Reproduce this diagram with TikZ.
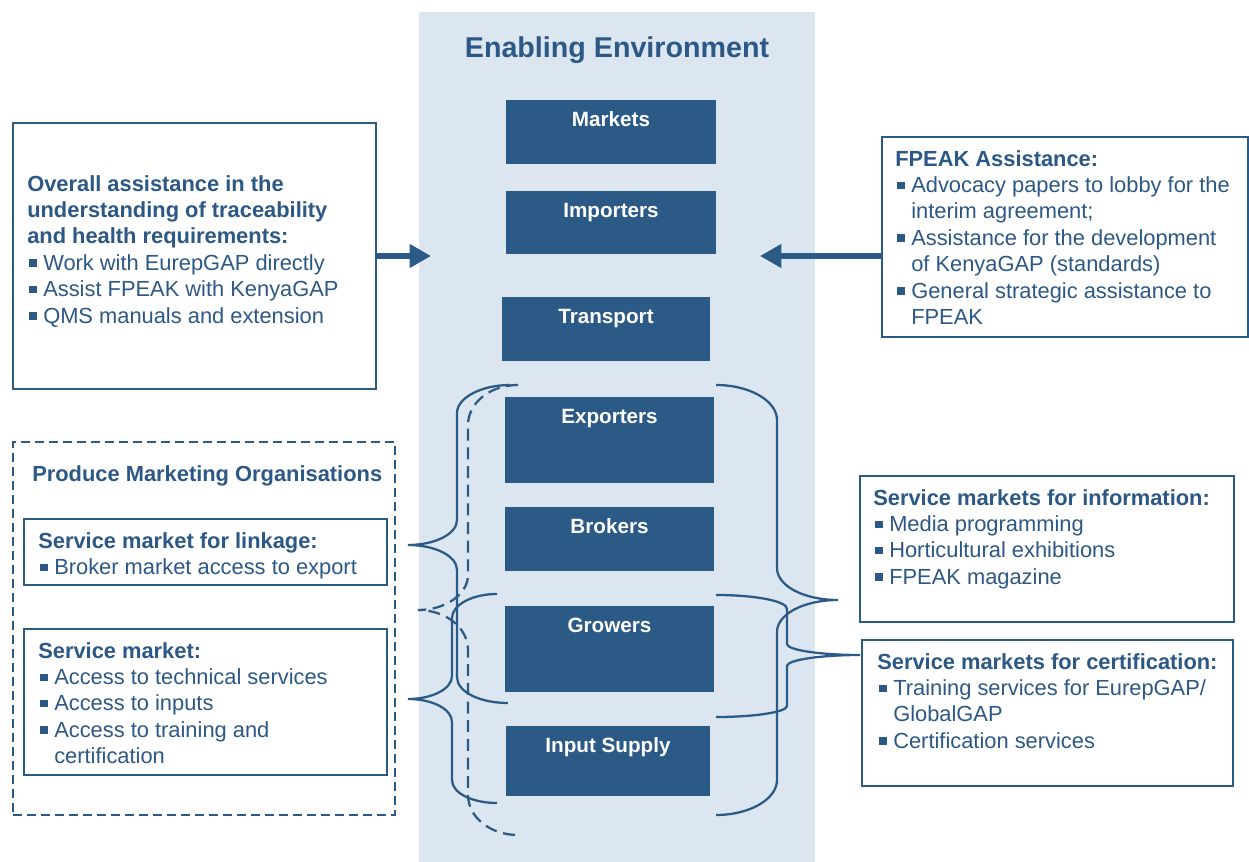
\documentclass[tikz,border=0pt]{standalone}
\usepackage{fontspec}
\setmainfont{Liberation Sans}
\usetikzlibrary{arrows.meta,fit}
\definecolor{bgblue}{RGB}{220,230,241}
\definecolor{dkblue}{RGB}{44,90,135}
\definecolor{txblue}{RGB}{44,88,133}
\newcommand{\bul}{\rule[0.16em]{0.34em}{0.34em}}
\newcommand{\bi}{\makebox[12pt][l]{\hspace{1.5pt}\bul}}
\newcommand{\ci}{\hspace*{12pt}}
\begin{document}
\begin{tikzpicture}[x=0.75pt,y=-0.75pt,
  dkbox/.style={fill=dkblue,draw=none,inner sep=0pt},
  wbox/.style={draw=dkblue,line width=1.1pt,fill=white,inner sep=0pt},
  dbox/.style={draw=dkblue,line width=1.1pt,dash pattern=on 7pt off 3.5pt,inner sep=0pt},
  lbl/.style={text=white,font=\fontsize{15.5}{18}\selectfont\bfseries,anchor=base},
  txt/.style={text=txblue,inner sep=0pt,anchor=north west,align=left,font=\fontsize{16.4}{19.8}\selectfont},
  brace/.style={draw=dkblue,line width=1.7pt},
  dbrace/.style={draw=dkblue,line width=1.7pt,dash pattern=on 9pt off 5pt},
  bigarrow/.style={draw=dkblue,line width=4.5pt,-{Triangle[length=16pt,width=17pt]}}]
\useasboundingbox (0,0) rectangle (1249,862);
% enabling environment background
\node[fill=bgblue,inner sep=0pt,fit={(419,12)(815,862)}] (env) {};
\node[text=txblue,font=\fontsize{21.5}{24}\selectfont\bfseries] (envtitle) at (617,50) {Enabling Environment};
% chain boxes
\node[dkbox,fit={(506,100)(716,164)}] (markets) {};
\node[lbl] (marketsl) at ([yshift=-20.4pt]markets.north) {Markets};
\node[dkbox,fit={(506,191)(716,254)}] (importers) {};
\node[lbl] (importersl) at ([yshift=-20.4pt]importers.north) {Importers};
\node[dkbox,fit={(502,297)(710,361)}] (transport) {};
\node[lbl] (transportl) at ([yshift=-20.4pt]transport.north) {Transport};
\node[dkbox,fit={(505,397)(714,483)}] (exporters) {};
\node[lbl] (exportersl) at ([yshift=-20.4pt]exporters.north) {Exporters};
\node[dkbox,fit={(505,507)(714,571)}] (brokers) {};
\node[lbl] (brokersl) at ([yshift=-20.4pt]brokers.north) {Brokers};
\node[dkbox,fit={(505,606)(714,692)}] (growers) {};
\node[lbl] (growersl) at ([yshift=-20.4pt]growers.north) {Growers};
\node[dkbox,fit={(506,726)(710,796)}] (input) {};
\node[lbl] (inputl) at ([yshift=-20.4pt]input.north) {Input Supply};
% left top box
\node[wbox,fit={(13,123)(376,389)}] (lb1) {};
\node[txt] (lb1t) at (27,175) {\textbf{Overall assistance in the}\\
\textbf{understanding of traceability}\\
\textbf{and health requirements:}\\
\bi Work with EurepGAP directly\\
\bi Assist FPEAK with KenyaGAP\\
\bi QMS manuals and extension};
% right top box
\node[wbox,fit={(882,137)(1248,337)}] (rb1) {};
\node[txt] (rb1t) at (895,150) {\textbf{FPEAK Assistance:}\\
\bi Advocacy papers to lobby for the\\
\ci interim agreement;\\
\bi Assistance for the development\\
\ci of KenyaGAP (standards)\\
\bi General strategic assistance to\\
\ci FPEAK};
% arrows
\coordinate (tipL) at (431,256);
\coordinate (tipR) at (760,256);
\draw[bigarrow] (lb1.east) -- (tipL);
\draw[bigarrow] (rb1.west |- lb1.east) -- (tipR);
% produce marketing organisations
\node[dbox,fit={(13,442)(395,815)}] (pmo) {};
\node[txt] (pmot) at (32,465) {\textbf{Produce Marketing Organisations}};
\node[wbox,fit={(24,519)(387,585)}] (link) {};
\node[txt] (linkt) at (38,532) {\textbf{Service market for linkage:}\\
\bi Broker market access to export};
\node[wbox,fit={(24,629)(387,775)}] (serv) {};
\node[txt] (servt) at (38,642) {\textbf{Service market:}\\
\bi Access to technical services\\
\bi Access to inputs\\
\bi Access to training and\\
\ci certification};
% right lower boxes
\node[wbox,fit={(860,476)(1234,622)}] (info) {};
\node[txt] (infot) at (873,489) {\textbf{Service markets for information:}\\
\bi Media programming\\
\bi Horticultural exhibitions\\
\bi FPEAK magazine};
\node[wbox,fit={(862,640)(1233,786)}] (cert) {};
\node[txt] (certt) at (877,653) {\textbf{Service markets for certification:}\\
\bi Training services for EurepGAP/\\
\ci GlobalGAP\\
\bi Certification services};
% braces left
\draw[brace] (510,385) .. controls (481,385) and (457,398) .. (457,413) -- (457,520)
  .. controls (457,534) and (435,545) .. (408,545) .. controls (435,545) and (457,556) .. (457,570)
  -- (457,677) .. controls (457,692) and (480,703) .. (508,703);
\draw[brace] (497,594) .. controls (472,594) and (452,605) .. (452,618) -- (452,676)
  .. controls (452,689) and (432,699) .. (408,699) .. controls (432,699) and (452,709) .. (452,722)
  -- (452,780) .. controls (452,793) and (472,803) .. (497,803);
\draw[dbrace] (518,385) .. controls (490,385) and (468,403) .. (468,425) -- (468,575)
  .. controls (468,594) and (446,610) .. (418,610) .. controls (446,610) and (468,628) .. (468,650)
  -- (468,795) .. controls (468,817) and (490,835) .. (518,835);
% braces right
\draw[brace] (716,385) .. controls (750,385) and (777,401) .. (777,420) -- (777,568)
  .. controls (777,586) and (804,600) .. (838,600) .. controls (804,600) and (777,614) .. (777,632)
  -- (777,780) .. controls (777,799) and (750,815) .. (716,815);
\draw[brace] (716,595) .. controls (755,595) and (787,601) .. (787,609) -- (787,644)
  .. controls (787,650) and (820,655) .. (860,655) .. controls (820,655) and (787,660) .. (787,666)
  -- (787,706) .. controls (787,712) and (755,717) .. (716,717);
\end{tikzpicture}
\end{document}
